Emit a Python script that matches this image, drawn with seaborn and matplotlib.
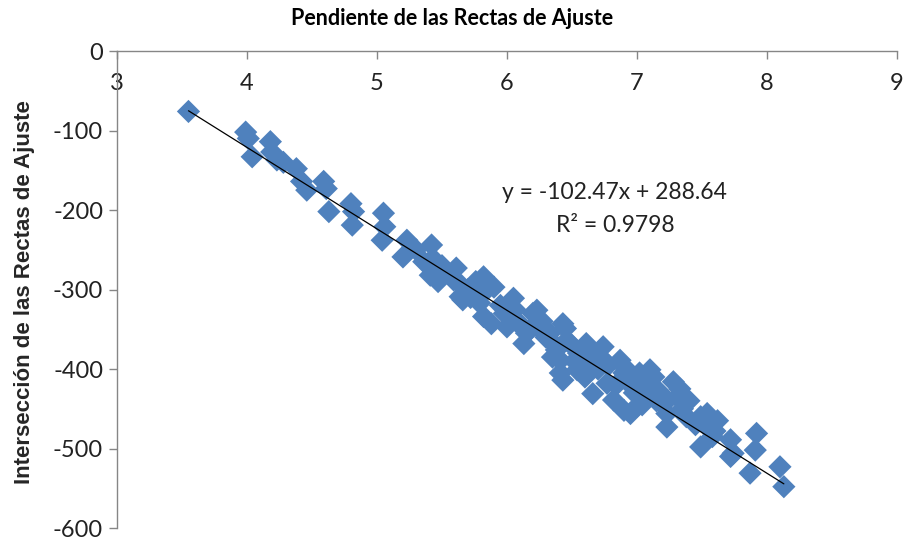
import matplotlib
matplotlib.use("Agg")
import matplotlib.pyplot as plt
import seaborn as sns
import pandas as pd

# Slope (x) and intercept (y) of each fitted line
pendiente = [
    3.55, 3.99, 4.01, 4.04, 4.18, 4.19, 4.23, 4.28, 4.38, 4.42, 4.46, 4.59, 4.61, 4.63,
    4.80, 4.82, 4.81, 5.05, 5.06, 5.04, 5.23, 5.20, 5.30, 5.36, 5.42, 5.43, 5.41,
    5.47, 5.50, 5.55, 5.61, 5.59, 5.66, 5.64, 5.65, 5.70, 5.72, 5.76, 5.82, 5.84,
    5.79, 5.90, 5.82, 5.88, 5.95, 5.98, 6.05, 6.00, 6.06, 6.08, 6.10, 6.20, 6.23,
    6.24, 6.13, 6.15, 6.18, 6.27, 6.30, 6.33, 6.35, 6.36, 6.43, 6.45, 6.46, 6.41,
    6.43, 6.38, 6.41, 6.50, 6.52, 6.55, 6.58, 6.61, 6.63, 6.66, 6.54, 6.66, 6.60,
    6.70, 6.72, 6.74, 6.78, 6.84, 6.87, 6.90, 6.77, 6.82, 6.90, 6.90, 6.95, 6.95,
    6.98, 7.00, 7.02, 7.04, 7.05, 7.08, 7.10, 7.10, 7.13, 7.15, 7.18, 7.20, 7.28,
    7.31, 7.23, 7.23, 7.33, 7.35, 7.38, 7.40, 7.45, 7.49, 7.54, 7.49, 7.54, 7.58,
    7.60, 7.62, 7.72, 7.74, 7.72, 7.92, 7.91, 7.87, 8.10, 8.13,
]
interseccion = [
    -76, -102, -110, -133, -114, -127, -137, -140, -148, -164, -175, -164, -173, -202,
    -192, -202, -219, -204, -221, -238, -238, -259, -250, -265, -244, -261, -282,
    -290, -270, -280, -273, -288, -313, -309, -295, -300, -310, -290, -284, -301,
    -317, -297, -334, -343, -320, -330, -311, -347, -325, -340, -345, -330, -326,
    -347, -368, -355, -350, -340, -360, -355, -385, -368, -343, -349, -364, -389,
    -414, -376, -405, -370, -390, -380, -395, -368, -375, -385, -401, -431, -410,
    -400, -385, -372, -395, -420, -389, -405, -418, -439, -397, -452, -420, -456,
    -430, -447, -405, -445, -431, -425, -401, -418, -410, -440, -430, -445, -416,
    -435, -456, -473, -425, -450, -460, -440, -470, -460, -473, -498, -456, -485,
    -478, -465, -489, -506, -510, -481, -502, -531, -523, -548,
]

# Linear trend line coefficients
pendiente_ajuste = -102.47
intercepto_ajuste = 288.64
r2 = 0.9798

x_ticks = [3, 4, 5, 6, 7, 8, 9]
y_ticks = [0, -100, -200, -300, -400, -500, -600]

df = pd.DataFrame({"pendiente": pendiente, "interseccion": interseccion})
x_line = [min(pendiente), max(pendiente)]
df_line = pd.DataFrame({
    "x": x_line,
    "y": [pendiente_ajuste * v + intercepto_ajuste for v in x_line],
})

sns.set_style("white")
plt.rcParams["font.family"] = ["Lato", "DejaVu Sans"]

fig = plt.figure(figsize=(9.04, 5.40), dpi=100)
ax = fig.add_axes([0.1294, 0.0222, 0.8628, 0.8833])

blue = "#4F81BD"
axis_gray = "#868686"

sns.scatterplot(data=df, x="pendiente", y="interseccion", marker="D", s=140,
                color=blue, edgecolor="none", linewidth=0, ax=ax, zorder=2)
sns.lineplot(data=df_line, x="x", y="y", color="black", linewidth=0.9,
             ax=ax, zorder=3)

ax.set_xlim(3, 9)
ax.set_ylim(-600, 0)
ax.set_xticks(x_ticks)
ax.set_yticks(y_ticks)
ax.set_xticklabels([str(t) for t in x_ticks])
ax.set_yticklabels([str(t) for t in y_ticks])

for side in ("right", "bottom"):
    ax.spines[side].set_visible(False)
for side in ("left", "top"):
    ax.spines[side].set_color(axis_gray)
    ax.spines[side].set_linewidth(1.0)

ax.tick_params(axis="x", top=True, bottom=False, labeltop=True, labelbottom=False,
               direction="in", length=6, width=1.0, color=axis_gray,
               labelsize=17, labelcolor="#222222", pad=-31)
ax.tick_params(axis="y", left=True, direction="out", length=6, width=1.0,
               color=axis_gray, labelsize=17, labelcolor="#222222", pad=4)

ax.set_xlabel("")
ax.set_ylabel("Intersección de las Rectas de Ajuste", family="Liberation Sans",
              fontweight="bold", fontsize=16, labelpad=6)
ax.yaxis.set_label_coords(-0.105, 0.495)

fig.text(0.5, 0.965, "Pendiente de las Rectas de Ajuste", ha="center", va="center",
         fontsize=15.5, fontweight="bold", color="black")

ax.text(6.83, -178,
        f"y = {pendiente_ajuste}x + {intercepto_ajuste}", ha="center", va="center",
        fontsize=16.5, color="#222222")
ax.text(6.83, -219, f"R² = {r2}", ha="center", va="center",
        fontsize=16.5, color="#222222")

fig.savefig("out.png", dpi=100)
